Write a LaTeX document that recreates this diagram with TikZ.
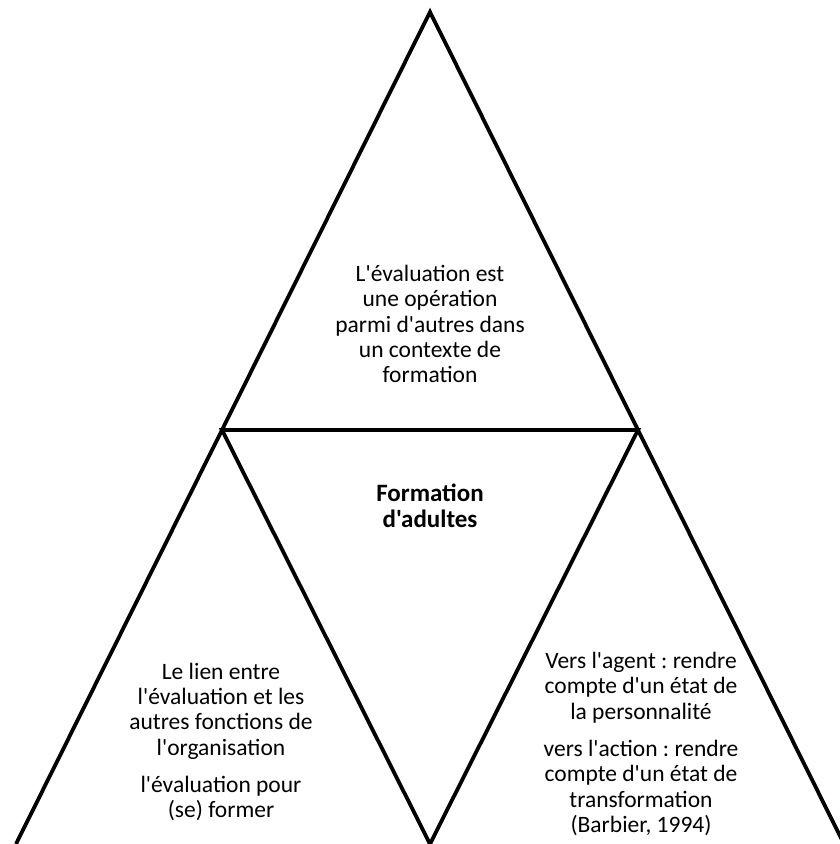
\documentclass[tikz,border=0pt]{standalone}
\usepackage{fontspec}
\setmainfont{Carlito}[Ligatures=TeXOff]
\usepackage{tikz}
\frenchspacing

\tikzset{
  edge/.style={line width=3.8pt, line join=miter},
  zonetext/.style={align=center, inner sep=0pt, font=\fontsize{23.5}{25.3}\selectfont},
}

\begin{document}
\begin{tikzpicture}[x=1pt,y=-1pt]
\useasboundingbox (0,0) rectangle (840,844);
% corners of the triangles
\coordinate (apex) at (430,12);
\coordinate (midL) at (222,430);
\coordinate (midR) at (638,430);
\coordinate (baseL) at (16,844);
\coordinate (baseM) at (430,844);
\coordinate (baseR) at (844,844);

\draw[edge] (baseL) -- (apex) -- (baseR);
\draw[edge] (midL) -- (midR) -- (baseM) -- cycle;

\node[zonetext] (haut) at (430,324) {L'évaluation est\\une opération\\parmi d'autres dans\\un contexte de\\formation};
\node[zonetext, font=\fontsize{25}{26.5}\selectfont\bfseries] (centre) at (430,506) {Formation\\d'adultes};
\node[zonetext] (gauche) at (221,742) {Le lien entre\\l'évaluation et les\\autres fonctions de\\l'organisation\\[12pt]l'évaluation pour\\(se) former};
\node[zonetext] (droite) at (641,744) {Vers l'agent : rendre\\compte d'un état de\\la personnalité\\[12pt]vers l'action : rendre\\compte d'un état de\\transformation\\(Barbier, 1994)};
\end{tikzpicture}
\end{document}
